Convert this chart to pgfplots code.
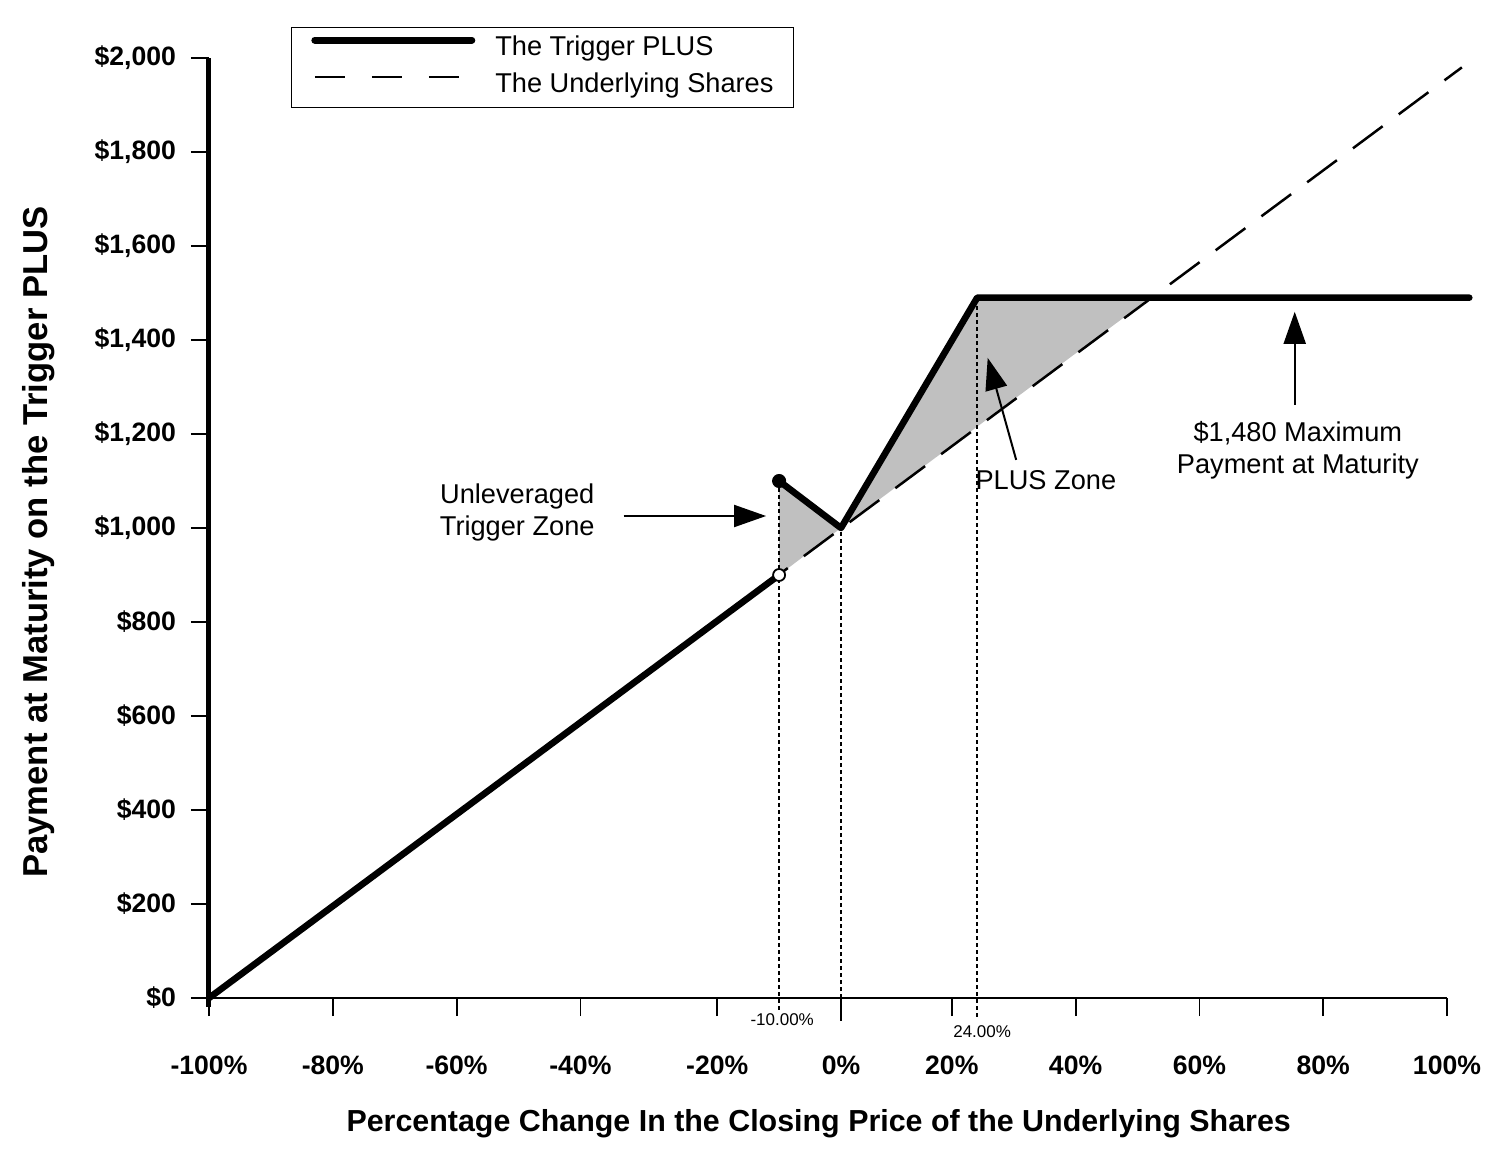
\documentclass[border=0pt]{standalone}
\usepackage{pgfplots}
\pgfplotsset{compat=1.18}
\usepackage{fontspec}
\setmainfont{Liberation Sans}
\usetikzlibrary{arrows.meta}
\definecolor{zone}{RGB}{192,192,192}
\newcommand{\tickfont}{\fontsize{13.3bp}{15bp}\selectfont\bfseries}
\newcommand{\legfont}{\fontsize{13.6bp}{16bp}\selectfont}
\newcommand{\smallfont}{\fontsize{8.5bp}{10bp}\selectfont}
\newcommand{\labfont}{\fontsize{15.2bp}{18bp}\selectfont\bfseries}
\newcommand{\ylabfont}{\fontsize{17.3bp}{20bp}\selectfont\bfseries}
\begin{document}
\begin{tikzpicture}
\useasboundingbox (-104.5bp,-78.5bp) rectangle (641.5bp,499bp);
\begin{axis}[
  at={(0bp,0bp)}, anchor=south west,
  scale only axis, width=619bp, height=470bp,
  xmin=-100, xmax=100, ymin=0, ymax=2000,
  axis x line=bottom, axis y line=left,
  axis line style={draw=none},
  tick align=outside, major tick length=9bp,
  tick style={line width=0.9bp, black},
  xtick={-100,-80,-60,-40,-17.9,2.1,20,40,60,80,100},
  xticklabels={-100\%,-80\%,-60\%,-40\%,-20\%,0\%,20\%,40\%,60\%,80\%,100\%},
  ytick={0,200,400,600,800,1000,1200,1400,1600,1800,2000},
  yticklabels={\$0,\$200,\$400,\$600,\$800,{\$1,000},{\$1,200},{\$1,400},{\$1,600},{\$1,800},{\$2,000}},
  ticklabel style={font=\tickfont},
  xticklabel style={anchor=base, yshift=-29bp},
  yticklabel style={anchor=east, xshift=-4bp},
  /pgf/number format/assume math mode=true,
  clip=false,
  legend style={at={(axis cs:-86.8,2066)}, anchor=north west, draw=black, line width=0.6bp,
    inner xsep=10bp, inner ysep=4.5bp, row sep=6bp, column sep=10bp, font=\legfont,
    nodes={inner sep=0pt, text height=9.5bp, text depth=3bp}},
  legend cell align=left,
]
% axis lines
\draw[line width=1.25bp] (axis cs:-100,0) -- (axis cs:100,0);
\draw[line width=2.5bp] (axis cs:-100,-19) -- (axis cs:-100,2000);
% shaded zones
\addplot[fill=zone, draw=none, forget plot] coordinates {(-7.9,900) (-7.9,1100) (2.1,1000)} -- cycle;
\addplot[fill=zone, draw=none, forget plot] coordinates {(2.1,1000) (24.1,1490) (52.1,1490)} -- cycle;
% Trigger PLUS first piece
\addplot[black, line width=3.3bp, line cap=round,
  legend image code/.code={\draw[black, line width=3.5bp, line cap=round] (0bp,4.5bp) -- (78.5bp,4.5bp);}]
  coordinates {(-100,0) (-7.9,900)};
\addlegendentry{The Trigger PLUS}
% Underlying shares
\addplot[black, line width=1.25bp, dash pattern=on 18.5bp off 10bp,
  legend image code/.code={\draw[black, line width=1.25bp, dash pattern=on 15bp off 13.5bp] (0bp,4.5bp) -- (78.5bp,4.5bp);}]
  coordinates {(-100,0) (102.4,1980)};
\addlegendentry{The Underlying Shares}
% dotted verticals
\addplot[forget plot, black, line width=1bp, dash pattern=on 2bp off 1.5bp] coordinates {(-7.9,-25) (-7.9,1100)};
\addplot[forget plot, black, line width=1bp, dash pattern=on 2bp off 1.5bp] coordinates {(2.1,0) (2.1,1000)};
\addplot[forget plot, black, line width=1bp, dash pattern=on 2bp off 1.5bp] coordinates {(24.1,-40) (24.1,1490)};
% Trigger PLUS second piece
\addplot[forget plot, black, line width=3.3bp, line cap=round, line join=round]
  coordinates {(-7.9,1100) (2.1,1000) (24.1,1490) (103.6,1490)};
% end points
\addplot[forget plot, only marks, mark=*, mark size=3.3bp, black] coordinates {(-7.9,1100)};
\addplot[forget plot, only marks, mark=*, mark size=3bp, mark options={fill=white, draw=black, line width=0.9bp}] coordinates {(-7.9,900)};
% longer zero tick
\draw[line width=0.9bp] (axis cs:2.1,0) -- (axis cs:2.1,-49);
% small labels
\node[font=\smallfont] at (axis cs:-7.4,-47) {-10.00\%};
\node[font=\smallfont] at (axis cs:24.9,-72) {24.00\%};
% annotations
\node[font=\legfont, align=center] at (axis cs:-50.2,1032) {Unleveraged\\Trigger Zone};
\draw[line width=1bp, -{Triangle[length=16bp,width=11bp]}] (axis cs:-33,1025.5) -- (axis cs:-10,1025.5);
\node[font=\legfont] at (axis cs:35.2,1102) {PLUS Zone};
\draw[line width=1bp, -{Triangle[length=16bp,width=11bp]}] (axis cs:30.4,1145) -- (axis cs:25.8,1362);
\node[font=\legfont, align=center] at (axis cs:75.9,1166) {\$1,480 Maximum\\Payment at Maturity};
\draw[line width=1bp, -{Triangle[length=16bp,width=11bp]}] (axis cs:75.4,1262) -- (axis cs:75.4,1460);
% axis titles
\node[font=\labfont] at (axis cs:-1.5,-268) {Percentage Change In the Closing Price of the Underlying Shares};
\node[font=\ylabfont, rotate=90] at (axis cs:-127.5,970) {Payment at Maturity on the Trigger PLUS};
\end{axis}
\end{tikzpicture}
\end{document}
